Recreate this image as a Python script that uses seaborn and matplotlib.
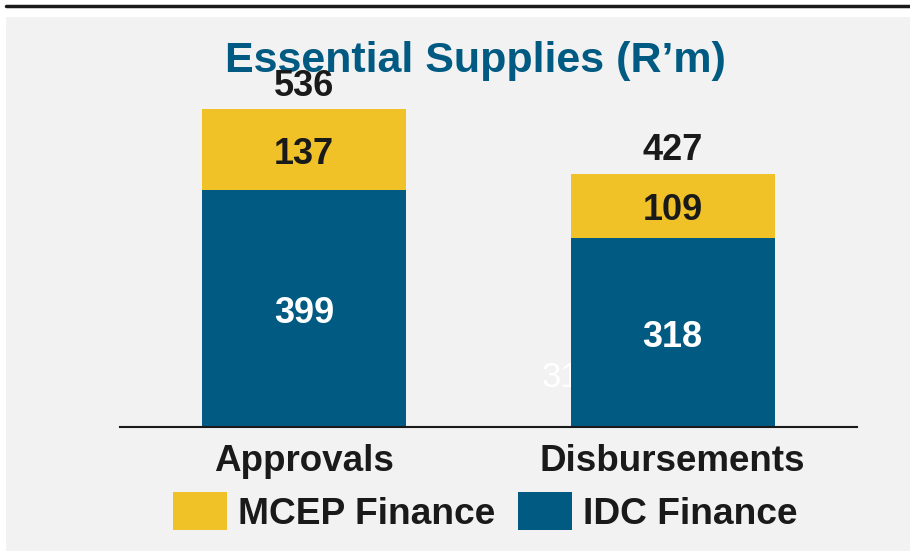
import matplotlib
matplotlib.use("Agg")
import matplotlib.pyplot as plt
import seaborn as sns
import numpy as np
import pandas as pd
from matplotlib.patches import Rectangle, Patch
from matplotlib.lines import Line2D

# data (R'm)
categories = ["Approvals", "Disbursements"]
idc_finance = [399, 318]
mcep_finance = [137, 109]
totals = [a + b for a, b in zip(idc_finance, mcep_finance)]

blue = "#005A82"
yellow = "#F0C228"
panel = "#F2F2F2"

sns.set_theme(style="white")
plt.rcParams["font.family"] = ["Liberation Sans", "DejaVu Sans"]

W, H = 910, 551
fig = plt.figure(figsize=(W / 100, H / 100), dpi=100, facecolor="white")

# grey panel + black rule at the top
fig.patches.append(Rectangle((6 / W, 0), 1 - 6 / W, (H - 17) / H,
                             transform=fig.transFigure, facecolor=panel,
                             edgecolor="none", zorder=-5))
fig.lines.append(Line2D([6 / W, 1], [1 - 5.5 / H, 1 - 5.5 / H],
                        transform=fig.transFigure, color="#1a1a1a", lw=2.5))

scale = 0.593  # px per unit
ax_top_px = 60
ax = fig.add_axes([120 / W, (H - 427) / H, 737 / W, (427 - ax_top_px) / H])
ax.set_facecolor("none")
ax.set_zorder(1)

df = pd.DataFrame({"cat": categories, "total": totals, "idc": idc_finance})

# ghost label left over in the source slide, sitting behind the bar
ax.text(0.724, 83, "318", color="white", fontsize=25, ha="center", va="center",
        zorder=0.5)

sns.barplot(data=df, x="cat", y="total", color=yellow, width=0.553,
            saturation=1, linewidth=0, ax=ax, zorder=2)
sns.barplot(data=df, x="cat", y="idc", color=blue, width=0.553,
            saturation=1, linewidth=0, ax=ax, zorder=3)

ax.set_xlim(-0.5, 1.5)
ax.set_ylim(0, (427 - ax_top_px) / scale)
ax.set_xlabel("")
ax.set_ylabel("")
ax.set_yticks([])
for s in ["top", "right", "left"]:
    ax.spines[s].set_visible(False)
ax.spines["bottom"].set_color("#1a1a1a")
ax.spines["bottom"].set_linewidth(1.5)
ax.spines["bottom"].set_zorder(5)
ax.tick_params(axis="x", length=0, pad=12)
for lbl in ax.get_xticklabels():
    lbl.set_fontsize(26.5)
    lbl.set_fontweight("bold")
    lbl.set_color("#1a1a1a")

for i in range(len(categories)):
    ax.text(i, idc_finance[i] / 2 - 8, str(idc_finance[i]), color="white",
            fontsize=26, fontweight="bold", ha="center", va="center", zorder=6)
    ax.text(i, idc_finance[i] + mcep_finance[i] / 2 - 8, str(mcep_finance[i]),
            color="#1a1a1a", fontsize=26, fontweight="bold", ha="center",
            va="center", zorder=6)
    ax.text(i, totals[i] + 39, str(totals[i]), color="#1a1a1a", fontsize=26,
            fontweight="bold", ha="center", va="center", zorder=7)

fig.text(475 / W, (H - 72) / H, "Essential Supplies (R\u2019m)", color=blue,
         fontsize=31, fontweight="bold", ha="center", va="baseline", zorder=0)

handles = [Patch(facecolor=yellow, edgecolor="none", label="MCEP Finance"),
           Patch(facecolor=blue, edgecolor="none", label="IDC Finance")]
fig.legend(handles=handles, loc="center", bbox_to_anchor=(485 / W, 39 / H),
           ncol=2, frameon=False, prop={"size": 26.7, "weight": "bold"},
           handlelength=1.46, handleheight=1.2, handletextpad=0.3,
           columnspacing=0.6, borderpad=0, labelcolor="#1a1a1a")

fig.savefig("out.png", dpi=100, facecolor="white")
